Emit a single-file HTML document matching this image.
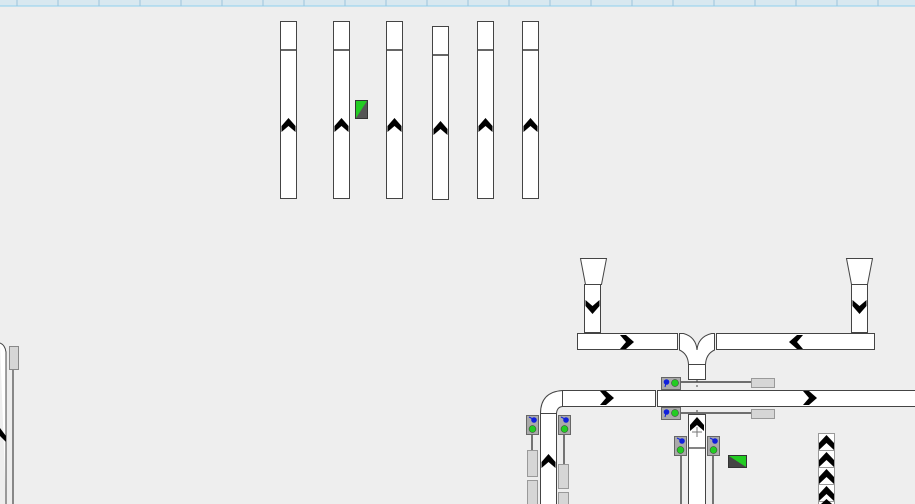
<!DOCTYPE html>
<html><head><style>
html,body{margin:0;padding:0;background:#eeeeee;}
svg{display:block}
</style></head><body>
<svg width="915" height="504" viewBox="0 0 915 504" xmlns="http://www.w3.org/2000/svg">
<defs>
<g id="cu"><path d="M-7,7 L-7,1 L0,-7 L7,1 L7,7 L0,1 Z" fill="#000"/></g>
</defs>
<rect width="915" height="504" fill="#eeeeee"/>
<!-- ruler -->
<rect x="0" y="0" width="915" height="6" fill="#d8e8f0"/>
<line x1="0" y1="6" x2="915" y2="6" stroke="#8fd0ee" stroke-width="1"/>
<g stroke="#9cc4dc" stroke-width="1">
<path d="M17,0V6M58,0V6M99,0V6M140,0V6M181,0V6M222,0V6M263,0V6M304,0V6M345,0V6M386,0V6M427,0V6M468,0V6M509,0V6M550,0V6M591,0V6M632,0V6M673,0V6M714,0V6M755,0V6M796,0V6M837,0V6M878,0V6"/>
</g>
<!-- top vertical bars -->
<g fill="#fff" stroke="#444" stroke-width="1">
<rect x="280.5" y="21.5" width="16" height="177"/>
<rect x="333.5" y="21.5" width="16" height="177"/>
<rect x="386.5" y="21.5" width="16" height="177"/>
<rect x="432.5" y="26.5" width="16" height="173"/>
<rect x="477.5" y="21.5" width="16" height="177"/>
<rect x="522.5" y="21.5" width="16" height="177"/>
</g>
<g stroke="#333" stroke-width="1.5">
<path d="M281,50H296M334,50H349M387,50H402M433,55H448M478,50H493M523,50H538"/>
</g>
<use href="#cu" x="288.5" y="125"/><use href="#cu" x="341.5" y="125"/><use href="#cu" x="394.5" y="125"/>
<use href="#cu" x="440.5" y="128"/><use href="#cu" x="485.5" y="125"/><use href="#cu" x="530.5" y="125"/>
<rect x="355.5" y="100.5" width="12" height="18" fill="#555" stroke="#333"/>
<path d="M356,101H367L356,118Z" fill="#22cc22"/>
<!-- left edge -->
<path d="M0,343 Q5,345 6,352 V504" fill="#fff" stroke="#444"/>
<path d="M0,428 L6,436 L6,442 L0,436Z" fill="#000"/>
<rect x="9.5" y="346.5" width="9" height="23" fill="#d6d6d6" stroke="#888"/>
<line x1="13" y1="370" x2="13" y2="504" stroke="#222"/>
<!-- hoppers -->
<g fill="#fff" stroke="#444">
<path d="M580.5,258.5H606.5L601.5,284.5H585.5Z"/>
<path d="M846.5,258.5H872.5L867.5,284.5H851.5Z"/>
<rect x="584.5" y="284.5" width="16" height="48"/>
<rect x="851.5" y="284.5" width="16" height="48"/>
<rect x="577.5" y="333.5" width="100" height="16"/>
<rect x="716.5" y="333.5" width="158" height="16"/>
<path d="M679.5,333.5H683.5Q696,337 697,350Q698,337 711.5,333.5H714.5V350Q706,354 705.5,364.5H688.5Q688,354 679.5,350Z"/>
<rect x="688.5" y="364.5" width="17" height="15"/>
</g>
<g transform="rotate(180 592.5 307)"><use href="#cu" x="592.5" y="307"/></g>
<g transform="rotate(180 859.5 307)"><use href="#cu" x="859.5" y="307"/></g>
<g transform="rotate(90 627 342)"><use href="#cu" x="627" y="342"/></g>
<g transform="rotate(-90 796 342)"><use href="#cu" x="796" y="342"/></g>
<!-- signals + lines -->
<g stroke="#222" stroke-width="1.2">
<line x1="680" y1="382" x2="751" y2="382"/>
<line x1="680" y1="413" x2="751" y2="413"/>
<line x1="532" y1="434" x2="532" y2="450"/>
<line x1="564" y1="434" x2="564" y2="464"/>
<line x1="681" y1="455" x2="681" y2="504"/>
<line x1="713" y1="455" x2="713" y2="504"/>
</g>
<line x1="697" y1="380" x2="697" y2="414" stroke="#444" stroke-dasharray="2,3"/>
<g fill="#d6d6d6" stroke="#999">
<rect x="751.5" y="378.5" width="23" height="9"/>
<rect x="751.5" y="409.5" width="23" height="9"/>
<rect x="527.5" y="450.5" width="10" height="26"/>
<rect x="527.5" y="480.5" width="10" height="26"/>
<rect x="558.5" y="464.5" width="10" height="24"/>
<rect x="558.5" y="492.5" width="10" height="14"/>
</g>
<!-- main conveyors -->
<g fill="#fff" stroke="#444">
<rect x="562.5" y="390.5" width="93" height="16"/>
<rect x="657.5" y="390.5" width="262" height="16"/>
<path d="M540.5,413.5Q540.5,392 562.5,390.5V406.5Q557,407 556.5,413.5Z"/>
<rect x="540.5" y="413.5" width="16" height="95"/>
<rect x="688.5" y="414.5" width="17" height="95"/>
</g>
<line x1="689" y1="448" x2="705" y2="448" stroke="#333" stroke-width="1.2"/>
<g transform="rotate(90 607 398)"><use href="#cu" x="607" y="398"/></g>
<g transform="rotate(90 810 398)"><use href="#cu" x="810" y="398"/></g>
<use href="#cu" x="548.5" y="461"/>
<use href="#cu" x="697" y="424"/>
<path d="M692,432H702M697,427V437" stroke="#777"/>
<!-- signal boxes -->
<g fill="#aaa" stroke="#666">
<rect x="661.5" y="377.5" width="19" height="12"/>
<rect x="661.5" y="407.5" width="19" height="12"/>
<rect x="526.5" y="415.5" width="12" height="19"/>
<rect x="558.5" y="415.5" width="12" height="19"/>
<rect x="674.5" y="436.5" width="12" height="19"/>
<rect x="707.5" y="436.5" width="12" height="19"/>
</g>
<g fill="#22cc22" stroke="#333" stroke-width="0.5">
<circle cx="675" cy="383" r="3.5"/><circle cx="675" cy="413" r="3.5"/>
<circle cx="532.5" cy="429" r="3.5"/><circle cx="564.5" cy="429" r="3.5"/>
<circle cx="680.5" cy="450" r="3.5"/><circle cx="713.5" cy="450" r="3.5"/>
</g>
<g fill="#1020dd" stroke="#1020dd" stroke-width="1">
<circle cx="666.5" cy="382" r="2.3"/><line x1="666" y1="383" x2="665" y2="387"/>
<circle cx="666.5" cy="412" r="2.3"/><line x1="666" y1="413" x2="665" y2="417"/>
<circle cx="534" cy="420" r="2.3"/><line x1="533" y1="419" x2="529" y2="417"/>
<circle cx="566" cy="420" r="2.3"/><line x1="565" y1="419" x2="561" y2="417"/>
<circle cx="682" cy="441" r="2.3"/><line x1="681" y1="440" x2="677" y2="438"/>
<circle cx="715" cy="441" r="2.3"/><line x1="714" y1="440" x2="710" y2="438"/>
</g>
<rect x="728.5" y="455.5" width="18" height="12" fill="#444" stroke="#333"/>
<path d="M729,456H746V467Z" fill="#22cc22"/>
<!-- chevron stack -->
<g fill="#fff" stroke="#999">
<rect x="818.5" y="433.5" width="16" height="17"/>
<rect x="818.5" y="450.5" width="16" height="17"/>
<rect x="818.5" y="467.5" width="16" height="17"/>
<rect x="818.5" y="484.5" width="16" height="17"/>
<rect x="818.5" y="501.5" width="16" height="17"/>
</g>
<g fill="#000">
<path d="M819,443L826.5,435L834,443L834,450L826.5,443L819,450Z"/>
<path d="M819,460L826.5,452L834,460L834,467L826.5,460L819,467Z"/>
<path d="M819,477L826.5,469L834,477L834,484L826.5,477L819,484Z"/>
<path d="M819,494L826.5,486L834,494L834,501L826.5,494L819,501Z"/>
<path d="M821,504L826.5,499L832,504Z"/>
</g>
</svg>
</body></html>
